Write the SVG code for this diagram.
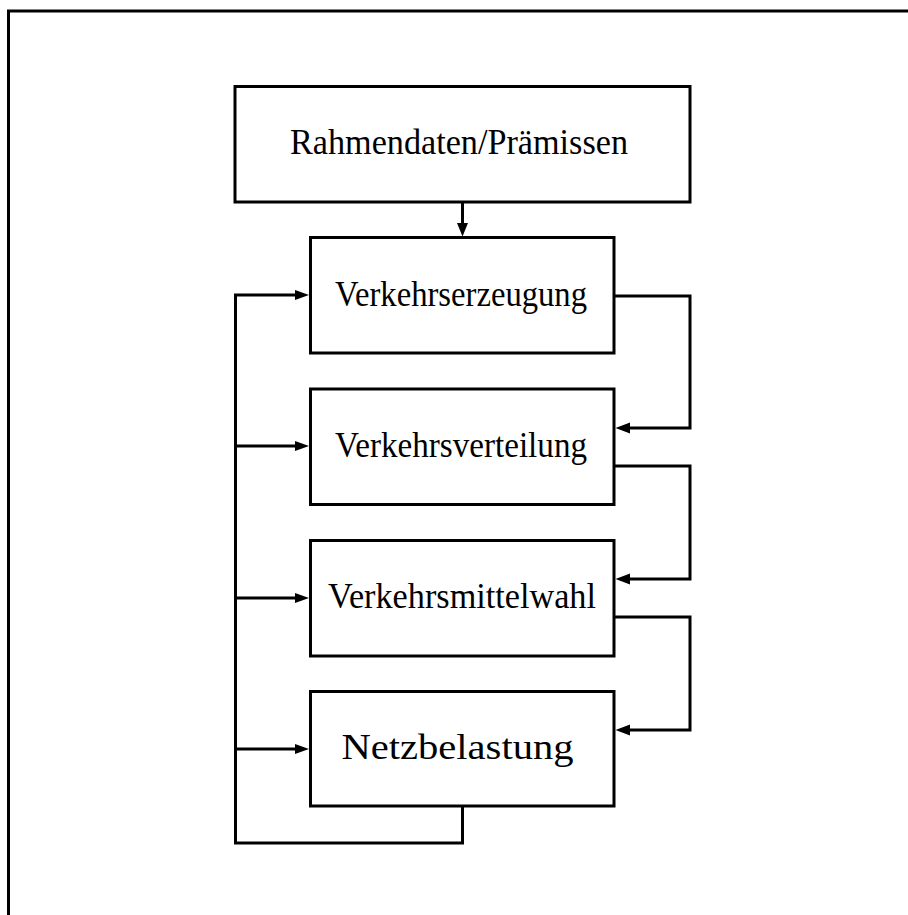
<svg xmlns="http://www.w3.org/2000/svg" width="908" height="915" viewBox="0 0 908 915">
<defs>
<style>
.box{fill:#fff;stroke:#000;stroke-width:3}
.ln{fill:none;stroke:#000;stroke-width:3}
.t{font-family:"Liberation Serif","DejaVu Serif",serif;font-size:35px;fill:#000;text-anchor:middle}
.ah{fill:#000}
</style>
</defs>
<rect width="908" height="915" fill="#fff"/>
<path class="ln" d="M8.5,915 V11 H908"/>
<g id="n0"><rect class="box" x="235" y="86.5" width="455" height="115.5"/><text class="t" x="459" y="153.5" textLength="338" lengthAdjust="spacingAndGlyphs">Rahmendaten/Prämissen</text></g>
<g id="n1"><rect class="box" x="310.5" y="237.5" width="303.5" height="115.5"/><text class="t" x="461" y="306" textLength="252" lengthAdjust="spacingAndGlyphs">Verkehrserzeugung</text></g>
<g id="n2"><rect class="box" x="310.5" y="389" width="303.5" height="115.5"/><text class="t" x="461" y="456.5" textLength="252" lengthAdjust="spacingAndGlyphs">Verkehrsverteilung</text></g>
<g id="n3"><rect class="box" x="310.5" y="540.5" width="303.5" height="115.5"/><text class="t" x="462" y="608" textLength="268" lengthAdjust="spacingAndGlyphs">Verkehrsmittelwahl</text></g>
<g id="n4"><rect class="box" x="310.5" y="691.5" width="303.5" height="114.5"/><text class="t" x="457.5" y="759" textLength="232" lengthAdjust="spacingAndGlyphs">Netzbelastung</text></g>
<g id="connectors">
<path class="ln" d="M462.5,202 V226"/>
<polygon class="ah" points="462.5,236.5 457,223 468,223"/>
<path class="ln" d="M614,296 H690 V428 H628"/>
<polygon class="ah" points="615.5,428 630,422.5 630,433.5"/>
<path class="ln" d="M614,466 H690 V579 H628"/>
<polygon class="ah" points="615.5,579 630,573.5 630,584.5"/>
<path class="ln" d="M614,617 H690 V730 H628"/>
<polygon class="ah" points="615.5,730 630,724.5 630,735.5"/>
<path class="ln" d="M462.5,806 V843 H235.5 V295 H297"/>
<polygon class="ah" points="309,295 295,290 295,300"/>
<path class="ln" d="M235.5,446 H297"/>
<polygon class="ah" points="309,446 295,441 295,451"/>
<path class="ln" d="M235.5,598 H297"/>
<polygon class="ah" points="309,598 295,593 295,603"/>
<path class="ln" d="M235.5,749 H297"/>
<polygon class="ah" points="309,749 295,744 295,754"/>
</g>
</svg>
